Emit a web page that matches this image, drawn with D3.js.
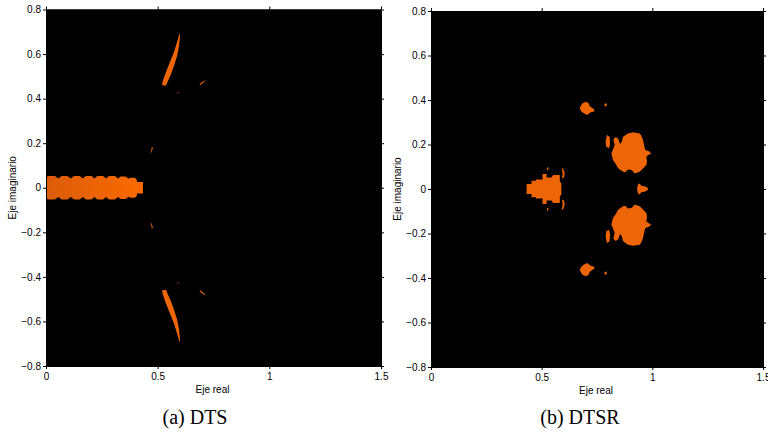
<!DOCTYPE html>
<html>
<head>
<meta charset="utf-8">
<script src="https://cdn.jsdelivr.net/npm/d3@7"></script>
<style>
  body { margin: 0; background: #fff; }
  svg { display: block; }
  .tick text { font-family: "Liberation Sans", Arial, Helvetica, sans-serif; font-size: 10px; fill: #000; }
</style>
</head>
<body>
<svg width="768" height="436"></svg>
<script>
// axis ticks
var xTicks = [0, 0.5, 1, 1.5];
var yTicks = [-0.8, -0.6, -0.4, -0.2, 0, 0.2, 0.4, 0.6, 0.8];
var titles = ["(a) DTS", "(b) DTSR"];

// ---- (a) DTS : regions in the complex plane (upper half, mirrored below) ----
// scalloped bar on the real axis: upper profile (x, imag)
var dtsBar = [
  [0, 0.045], [0.01, 0.053], [0.04, 0.053], [0.055, 0.041],
  [0.07, 0.053], [0.096, 0.053], [0.111, 0.041],
  [0.125, 0.053], [0.151, 0.053], [0.165, 0.041],
  [0.178, 0.053], [0.204, 0.053], [0.217, 0.041],
  [0.230, 0.053], [0.256, 0.053], [0.269, 0.041],
  [0.282, 0.053], [0.309, 0.053], [0.322, 0.041],
  [0.334, 0.051], [0.357, 0.051], [0.369, 0.040],
  [0.378, 0.045], [0.398, 0.045], [0.407, 0.036],
  [0.407, 0.026], [0.434, 0.026], [0.434, 0]
];
var dtsCrescent = [
  [0.519, 0.461], [0.524, 0.483], [0.537, 0.519], [0.555, 0.564], [0.573, 0.609],
  [0.587, 0.654], [0.598, 0.694], [0.600, 0.681], [0.596, 0.636], [0.587, 0.591],
  [0.573, 0.546], [0.560, 0.510], [0.546, 0.479], [0.537, 0.458]
];
var dtsDash = [[0.688, 0.459], [0.706, 0.472], [0.714, 0.482], [0.708, 0.480], [0.690, 0.467]];
var dtsSpeck = [[0.586, 0.424], [0.596, 0.424], [0.596, 0.429], [0.586, 0.429]];
var dtsArc = [[0.474, 0.184], [0.479, 0.178], [0.472, 0.160], [0.466, 0.152], [0.470, 0.163]];

// ---- (b) DTSR ----
var dtsrCore = [
  [0.432, 0], [0.432, 0.022], [0.454, 0.022], [0.454, 0.037], [0.474, 0.037],
  [0.474, 0.043], [0.504, 0.043], [0.504, 0.067], [0.522, 0.067], [0.522, 0.052],
  [0.544, 0.052], [0.552, 0.063], [0.582, 0.063], [0.582, 0.033], [0.589, 0.026],
  [0.589, 0]
];
var dtsrSatellite = [[0.590, 0.097], [0.598, 0.089], [0.604, 0.072], [0.601, 0.052], [0.592, 0.047], [0.595, 0.070]];
var dtsrDot = [[0.524, 0.085], [0.530, 0.085], [0.530, 0.097], [0.524, 0.097]];
var dtsrBlob = [
  [0.868, 0.235], [0.890, 0.250], [0.913, 0.255], [0.943, 0.250], [0.950, 0.240],
  [0.958, 0.220], [0.963, 0.195], [0.968, 0.175], [0.985, 0.170], [0.995, 0.160],
  [0.980, 0.152], [0.973, 0.145], [0.976, 0.125], [0.973, 0.108], [0.958, 0.092],
  [0.943, 0.078], [0.920, 0.070], [0.912, 0.080], [0.905, 0.085], [0.890, 0.088],
  [0.878, 0.075], [0.868, 0.078], [0.845, 0.093], [0.835, 0.112], [0.822, 0.130],
  [0.815, 0.160], [0.830, 0.198], [0.824, 0.222], [0.834, 0.234], [0.846, 0.226],
  [0.854, 0.202], [0.862, 0.212]
];
var dtsrSliver = [[0.795, 0.243], [0.807, 0.235], [0.809, 0.205], [0.805, 0.183], [0.792, 0.190], [0.789, 0.215]];
var dtsrTip = [[0.931, 0], [0.935, 0.020], [0.943, 0.025], [0.950, 0.015], [0.965, 0.012], [0.980, 0.004], [0.980, 0]];
var dtsrSmall = [
  [0.672, 0.365], [0.684, 0.385], [0.700, 0.392], [0.712, 0.385], [0.718, 0.372],
  [0.735, 0.360], [0.740, 0.350], [0.722, 0.345], [0.705, 0.333], [0.690, 0.340], [0.678, 0.350]
];
var dtsrSpot = [[0.784, 0.372], [0.794, 0.372], [0.794, 0.384], [0.784, 0.384]];

// which shapes: "sym" = half profile closed on the real axis, "pair" = mirrored copy
var panels = [
  { left: 46, right: 381, top: 9.5, bottom: 366, titleX: 195,
    shapes: [
      { pts: dtsBar, kind: "sym", fill: "url(#barGrad)" },
      { pts: dtsCrescent, kind: "pair" },
      { pts: dtsDash, kind: "pair" },
      { pts: dtsSpeck, kind: "pair", fill: "#7a3000" },
      { pts: dtsArc, kind: "pair" }
    ] },
  { left: 431, right: 763, top: 11, bottom: 367, titleX: 580,
    shapes: [
      { pts: dtsrCore, kind: "sym" },
      { pts: dtsrSatellite, kind: "pair" },
      { pts: dtsrDot, kind: "pair" },
      { pts: dtsrBlob, kind: "pair" },
      { pts: dtsrSliver, kind: "pair" },
      { pts: dtsrTip, kind: "sym" },
      { pts: dtsrSmall, kind: "pair" },
      { pts: dtsrSpot, kind: "pair" }
    ] }
];

var svg = d3.select("svg");
var fmt = d3.format("~g");
var orange = "#ee6508";

var defs = svg.append("defs");
var grad = defs.append("linearGradient").attr("id", "barGrad")
    .attr("gradientUnits", "userSpaceOnUse")
    .attr("x1", panels[0].left).attr("x2", panels[0].left + 97)
    .attr("y1", 0).attr("y2", 0);
grad.append("stop").attr("offset", "0%").attr("stop-color", "#dc5c0a");
grad.append("stop").attr("offset", "100%").attr("stop-color", "#fa6a00");

panels.forEach(function(p, i) {
  var x = d3.scaleLinear().domain([0, 1.5]).range([p.left, p.right]);
  var y = d3.scaleLinear().domain([-0.8, 0.8]).range([p.bottom, p.top]);
  var g = svg.append("g");

  g.append("rect")
      .attr("x", p.left).attr("y", p.top)
      .attr("width", p.right - p.left).attr("height", p.bottom - p.top)
      .attr("fill", "#000");

  var line = d3.line()
      .x(function(d) { return x(d[0]); })
      .y(function(d) { return y(d[1]); })
      .curve(d3.curveLinearClosed);

  p.shapes.forEach(function(s) {
    var polys;
    if (s.kind === "sym") {
      var lower = s.pts.slice().reverse().map(function(d) { return [d[0], -d[1]]; });
      polys = [s.pts.concat(lower)];
    } else {
      polys = [s.pts, s.pts.map(function(d) { return [d[0], -d[1]]; })];
    }
    polys.forEach(function(poly) {
      g.append("path")
          .attr("d", line(poly))
          .attr("fill", s.fill || orange);
    });
  });

  var tk = 3;
  g.append("g").attr("transform", "translate(0," + p.bottom + ")")
      .call(d3.axisBottom(x).tickValues(xTicks).tickFormat(fmt).tickSize(tk).tickSizeOuter(0).tickPadding(4));
  g.append("g").attr("transform", "translate(0," + p.top + ")")
      .call(d3.axisTop(x).tickValues(xTicks).tickFormat("").tickSize(tk).tickSizeOuter(0));
  g.append("g").attr("transform", "translate(" + p.left + ",0)")
      .call(d3.axisLeft(y).tickValues(yTicks).tickFormat(fmt).tickSize(tk).tickSizeOuter(0).tickPadding(2));
  g.append("g").attr("transform", "translate(" + p.right + ",0)")
      .call(d3.axisRight(y).tickValues(yTicks).tickFormat("").tickSize(tk).tickSizeOuter(0));
  g.selectAll(".domain").attr("stroke", "#000");
  g.selectAll(".tick line").attr("stroke", "#000");

  var cx = (p.left + p.right) / 2;
  g.append("text")
      .attr("x", cx - 1).attr("y", p.bottom + 27)
      .attr("text-anchor", "middle")
      .style("font-family", "'Liberation Sans', Arial, sans-serif")
      .style("font-size", "10px")
      .text("Eje real");
  g.append("text")
      .attr("transform", "translate(" + (p.left - 30.5) + "," + ((p.top + p.bottom) / 2) + ") rotate(-90)")
      .attr("text-anchor", "middle")
      .style("font-family", "'Liberation Sans', Arial, sans-serif")
      .style("font-size", "10px")
      .text("Eje imaginario");
  g.append("text")
      .attr("x", p.titleX).attr("y", 424)
      .attr("text-anchor", "middle")
      .style("font-family", "'Liberation Serif', 'Times New Roman', serif")
      .style("font-size", "20px")
      .text(titles[i]);
});
</script>
</body>
</html>
